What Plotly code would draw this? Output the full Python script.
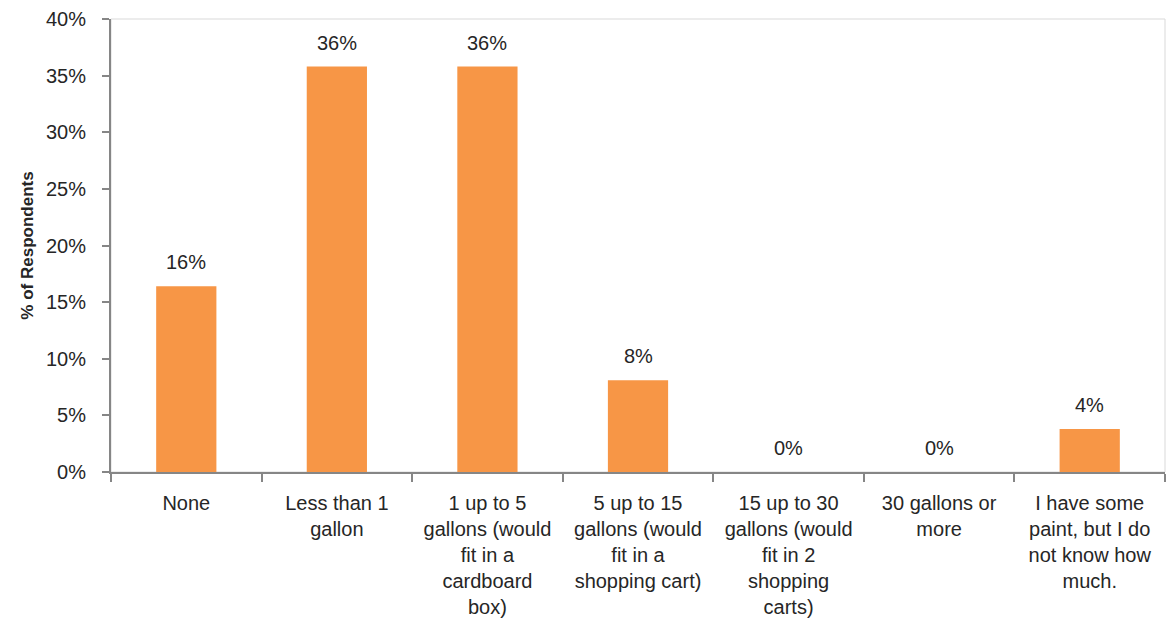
import plotly.graph_objects as go

categories = [
    "None",
    "Less than 1<br>gallon",
    "1 up to 5<br>gallons (would<br>fit in a<br>cardboard<br>box)",
    "5 up to 15<br>gallons (would<br>fit in a<br>shopping cart)",
    "15 up to 30<br>gallons (would<br>fit in 2<br>shopping<br>carts)",
    "30 gallons or<br>more",
    "I have some<br>paint, but I do<br>not know how<br>much.",
]
values = [0.164, 0.358, 0.358, 0.081, 0.0, 0.0, 0.038]
y_ticks = [0, 0.05, 0.10, 0.15, 0.20, 0.25, 0.30, 0.35, 0.40]

FONT = "Liberation Sans, Arial, sans-serif"
TXT = "#262626"

fig = go.Figure(
    go.Bar(
        x=categories,
        y=values,
        marker=dict(color="#F79646", line=dict(width=0)),
        width=0.4,
        hoverinfo="x+y",
    )
)

for c, v in zip(categories, values):
    fig.add_annotation(
        x=c, y=v, xref="x", yref="y",
        text=f"{v:.0%}", showarrow=False,
        yanchor="middle", yshift=24,
        font=dict(size=20, family=FONT, color=TXT),
    )

fig.add_shape(type="rect", xref="paper", yref="paper", x0=0, x1=1, y0=0, y1=1,
              line=dict(color="#D9D9D9", width=1), layer="below")

fig.update_layout(
    width=1175,
    height=634,
    margin=dict(l=103, r=18, t=11, b=170, autoexpand=False),
    paper_bgcolor="white",
    plot_bgcolor="white",
    showlegend=False,
    font=dict(family=FONT, size=20, color=TXT),
    xaxis=dict(
        automargin=False,
        tickson="boundaries",
        ticks="outside",
        ticklen=8,
        tickcolor="#868686",
        tickwidth=2,
        showline=True,
        linecolor="#868686",
        linewidth=2,
        showgrid=False,
        tickangle=0,
        ticklabelstandoff=12,
        tickfont=dict(size=20, family=FONT, color=TXT),
    ),
    yaxis=dict(
        automargin=False,
        range=[0, 0.40],
        tickvals=y_ticks,
        tickformat=".0%",
        ticks="outside",
        ticklen=7,
        tickcolor="#868686",
        tickwidth=2,
        showline=True,
        linecolor="#868686",
        linewidth=2,
        showgrid=False,
        zeroline=False,
        ticklabelstandoff=12,
        tickfont=dict(size=20, family=FONT, color=TXT),
        title=dict(text="<b>% of Respondents</b>", font=dict(size=17, family=FONT, color=TXT), standoff=8),
    ),
)

fig.write_html("out.html")
